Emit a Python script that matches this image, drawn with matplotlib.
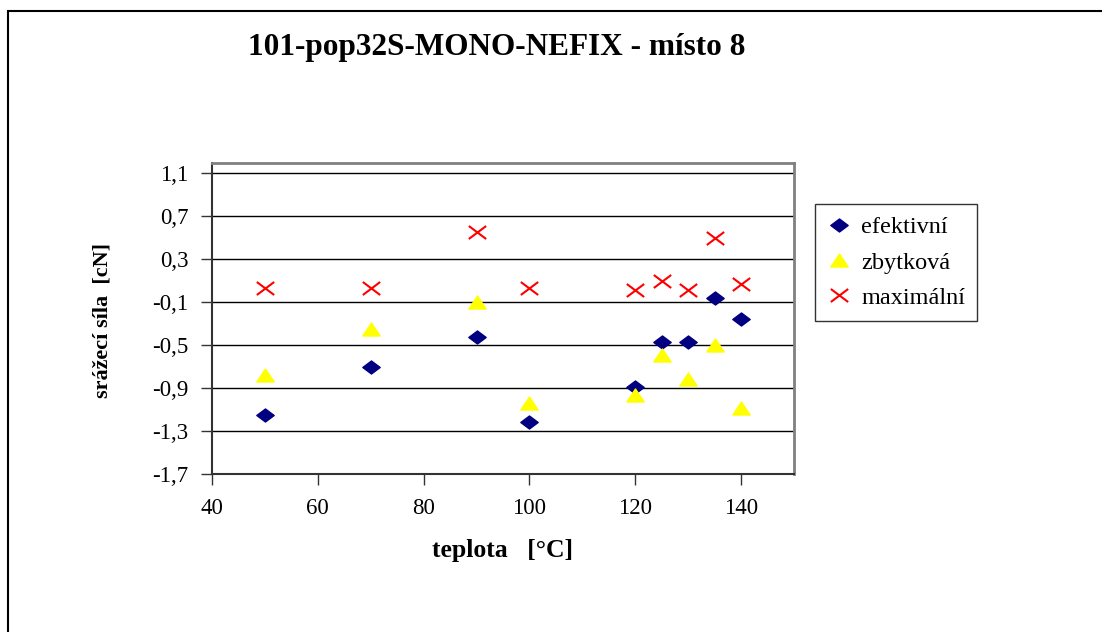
import numpy as np
import matplotlib.pyplot as plt
from matplotlib.path import Path
from matplotlib.patches import Rectangle

plt.rcParams['font.family'] = ['Liberation Serif', 'DejaVu Serif']

# data
teplota = [50, 70, 90, 100, 120, 125, 130, 135, 140]
efektivni = [-1.15, -0.71, -0.43, -1.22, -0.89, -0.475, -0.475, -0.06, -0.26]
zbytkova = [-0.78, -0.35, -0.10, -1.04, -0.97, -0.59, -0.82, -0.50, -1.09]
maximalni = [0.03, 0.03, 0.55, 0.03, 0.01, 0.10, 0.01, 0.50, 0.07]

y_ticks = [1.1, 0.7, 0.3, -0.1, -0.5, -0.9, -1.3, -1.7]
x_ticks = [40, 60, 80, 100, 120, 140]

title = '101-pop32S-MONO-NEFIX - místo 8'
xlabel = 'teplota   [°C]'
ylabel = 'srážecí síla  [cN]'

# excel-like markers (wider than tall)
diamond = Path([(-1, 0), (0, 0.75), (1, 0), (0, -0.75), (-1, 0)],
               [Path.MOVETO, Path.LINETO, Path.LINETO, Path.LINETO, Path.CLOSEPOLY])
triangle = Path([(-1, -0.75), (1, -0.75), (0, 0.75), (-1, -0.75)],
                [Path.MOVETO, Path.LINETO, Path.LINETO, Path.CLOSEPOLY])
cross = Path([(-1, -0.75), (1, 0.75), (-1, 0.75), (1, -0.75)],
             [Path.MOVETO, Path.LINETO, Path.MOVETO, Path.LINETO])

fig = plt.figure(figsize=(11.02, 6.32), dpi=100)
W, H = 1102.0, 632.0

# outer chart border (cut at right/bottom)
fig.patches.append(Rectangle((8/W, -0.05), 1.2, 1 - 11/H + 0.05, transform=fig.transFigure,
                             fill=False, edgecolor='black', linewidth=1.5))

ax = fig.add_axes([212/W, 1 - 473.5/H, (794-212)/W, (473.5-162.6)/H])

ax.plot(teplota, efektivni, linestyle='none', marker=diamond, markersize=12.5,
        markerfacecolor='#000080', markeredgecolor='#000080', label='efektivní', zorder=3)
ax.plot(teplota, zbytkova, linestyle='none', marker=triangle, markersize=12.5,
        markerfacecolor='#FFFF00', markeredgecolor='#FFFF00', label='zbytková', zorder=3)
ax.plot(teplota, maximalni, linestyle='none', marker=cross, markersize=12.5,
        markerfacecolor='none', markeredgecolor='#FF0000', markeredgewidth=1.5,
        label='maximální', zorder=3)

ax.set_xlim(40, 150)
ax.set_ylim(-1.7, 1.2)
ax.set_xticks(x_ticks)
ax.set_yticks(y_ticks)
ax.set_yticklabels([('%.1f' % v).replace('.', ',') for v in y_ticks])
ax.tick_params(axis='both', labelsize=16.5, direction='out', length=8, width=1, color='#333333')
ax.tick_params(axis='y', pad=9)
ax.tick_params(axis='x', pad=10)
ax.grid(axis='y', color='black', linewidth=1)
ax.set_axisbelow(True)
for s in ['left', 'bottom']:
    ax.spines[s].set_color('#333333')
    ax.spines[s].set_linewidth(1.5)
for s in ['top', 'right']:
    ax.spines[s].set_color('#808080')
    ax.spines[s].set_linewidth(2)

fig.text(497/W, 1 - 47/H, title, ha='center', va='center', fontsize=22.5, fontweight='bold')
fig.text(503/W, 1 - 551/H, xlabel, ha='center', va='center', fontsize=18.5, fontweight='bold')
fig.text(102/W, 1 - 321/H, ylabel, ha='center', va='center', rotation=90,
         fontsize=16, fontweight='bold')

leg = fig.legend(loc='upper left', bbox_to_anchor=(815/W, 1 - 204/H), fontsize=17.5,
                 frameon=True, fancybox=False, borderpad=0.5, handletextpad=0.4,
                 handlelength=1.0, labelspacing=0.55, borderaxespad=0)
leg.get_frame().set_edgecolor('black')
leg.get_frame().set_linewidth(1)

fig.savefig('out.png', dpi=100)
